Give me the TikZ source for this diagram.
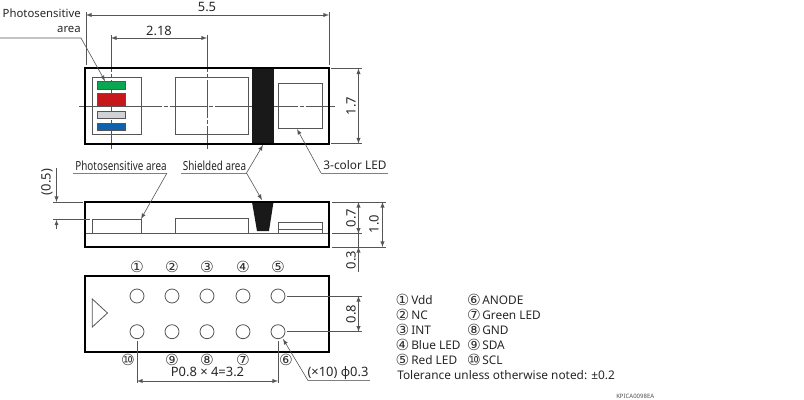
\documentclass[tikz,border=0pt]{standalone}
\usepackage{fontspec}
\setmainfont{Noto Sans}
\newfontfamily\narrowfont[FakeStretch=.79]{Noto Sans}
\newfontfamily\circfont{DejaVu Sans}
\usetikzlibrary{arrows}
\definecolor{thinline}{HTML}{555555}
\definecolor{greenbar}{HTML}{0BA650}
\definecolor{redbar}{HTML}{C8161D}
\definecolor{graybar}{HTML}{D0D2D6}
\definecolor{bluebar}{HTML}{0B62B0}
\tikzset{
  outline/.style={line width=1.5pt,black},
  part/.style={line width=.6pt,thinline},
  dimline/.style={line width=.45pt,thinline},
  underline/.style={line width=.7pt,black!50},
  centerline/.style={line width=.45pt,thinline,dash pattern=on 28pt off 1.5pt on 3pt off 1.5pt},
  bar/.style={draw=thinline,line width=.6pt},
  lbl/.style={inner sep=0pt,font=\narrowfont\fontsize{9.4}{11.25}\selectfont,text=black!85},
  legend/.style={inner sep=0pt,font=\fontsize{8.9}{10}\selectfont,text=black!85},
  dimnum/.style={inner sep=0pt,font=\fontsize{9.7}{10}\selectfont,text=black!85},
  pinlbl/.style={inner sep=0pt,font=\circfont\fontsize{11.5}{12}\selectfont,text=black!80},
}
\begin{document}
\begin{tikzpicture}[x=.75pt,y=-.75pt]
\useasboundingbox (0,0) rectangle (804,400);

% top view
\draw[centerline] (79,106)--(335,106);
\draw[centerline] (111,35)--(111,149);
\draw[centerline] (207,35)--(207,149);
\draw[part] (92.3,77) rectangle (141.5,134.5);
\draw[part] (175.5,77) rectangle (248,134.5);
\draw[part] (278,83.5) rectangle (322.5,128);
\filldraw[bar,fill=greenbar] (97,81.5) rectangle (125,89);
\filldraw[bar,fill=redbar] (97,93) rectangle (125,106.5);
\filldraw[bar,fill=graybar] (97,111) rectangle (125,118.5);
\filldraw[bar,fill=bluebar] (97,123) rectangle (125,130.5);
\fill[black!90] (252,68) rectangle (273.5,144);
\draw[outline] (85,68) rectangle (329,144);

% side view
\draw[part] (85,233.7)--(329,233.7);
\draw[part] (92.3,233.7)--(92.3,219.7)--(141,219.7)--(141,233.7);
\draw[part] (175.5,233.7)--(175.5,218)--(248,218)--(248,233.7);
\draw[part] (278,233.7)--(278,222.5)--(322.5,222.5)--(322.5,233.7);
\draw[part] (278,229.5)--(322.5,229.5);
\fill[black!90] (252,202)--(273.5,202)--(269,231)--(257,231)--cycle;
\draw[outline] (85,202) rectangle (329,247);

% bottom view
\draw[outline] (85,276) rectangle (329,351.5);
\draw[part] (92.3,299)--(107.5,313)--(92.3,327)--cycle;
\foreach \x in {137,172,207,243,278} {
  \draw[part] (\x,296) circle (7);
  \draw[part] (\x,331.7) circle (7);
}

% pin numbers
\foreach \x/\t in {137/①,172/②,207/③,243/④,278/⑤}
  \node[pinlbl] (top\x) at (\x,267) {\t};
\foreach \x/\t in {128/⑩,172/⑨,207/⑧,243/⑦,286/⑥}
  \node[pinlbl] (bot\x) at (\x,360) {\t};

% dimensions, top
\draw[dimline] (86,12)--(86,65);
\draw[dimline] (329,12)--(329,65);
\node[dimnum] (len) at (207,7) {5.5};
\draw[dimline,latex-latex] (86,15)--(329,15);
\node[dimnum] (pitch) at (159,31) {2.18};
\draw[dimline,latex-latex] (111,38)--(207,38);
\draw[dimline] (331,68.5)--(362,68.5);
\draw[dimline] (331,143.5)--(362,143.5);
\draw[dimline,latex-latex] (358.5,68.5)--(358.5,143.5);
\node[dimnum,rotate=90] (wid) at (351,106) {1.7};

% dimensions, side
\draw[dimline] (53,202)--(83,202);
\draw[dimline] (53,219.7)--(90,219.7);
\draw[dimline,-latex] (56.5,168)--(56.5,202);
\draw[dimline,-latex] (56.5,229)--(56.5,219.7);
\node[dimnum,rotate=90] (offs) at (47,182) {(0.5)};
\draw[dimline] (332,202)--(386,202);
\draw[dimline] (332,247)--(386,247);
\draw[dimline] (332,233.7)--(362,233.7);
\draw[dimline,latex-latex] (358.5,202)--(358.5,233.7);
\draw[dimline,-latex] (358.5,272)--(358.5,247);
\draw[dimline] (358.5,247)--(358.5,233.7);
\draw[dimline,latex-latex] (382.5,202)--(382.5,247);
\node[dimnum,rotate=90] (hgt) at (351,218) {0.7};
\node[dimnum,rotate=90] (gap) at (351,260) {0.3};
\node[dimnum,rotate=90] (tot) at (374,224) {1.0};

% dimensions, bottom
\draw[dimline] (287,296)--(362,296);
\draw[dimline] (287,331.7)--(362,331.7);
\draw[dimline,latex-latex] (358.5,296)--(358.5,331.7);
\node[dimnum,rotate=90] (row) at (351,314) {0.8};
\draw[dimline] (137,341)--(137,383);
\draw[dimline] (278,341)--(278,383);
\draw[dimline,latex-latex] (137,381)--(278,381);
\node[dimnum] (pit) at (207.5,372) {P0.8 × 4=3.2};

% leaders
\node[lbl,align=right,anchor=north east,font=\fontsize{8.5}{11.25}\selectfont] (lphoto) at (81,9) {Photosensitive\\area};
\coordinate (lphotoa) at (0,38);
\coordinate (lphotob) at (81,38);
\coordinate (lphotoc) at (105,81);
\draw[dimline,-latex] (lphotoa)--(lphotob)--(lphotoc);

\node[lbl] (lside) at (121,166) {Photosensitive area};
\draw[underline] (73,173)--(167,173);
\draw[dimline,-latex] (167,173)--(141,219);

\node[lbl] (lshield) at (214.5,166) {Shielded area};
\draw[underline] (181,173)--(246.5,173);
\draw[dimline,-latex] (246.5,173)--(263,145);
\draw[dimline,-latex] (246.5,173)--(262,200);

\node[legend] (lled) at (355,165) {3-color LED};
\draw[underline] (321,173)--(388,173);
\draw[dimline,-latex] (321,173)--(297,129);

\node[dimnum] (lhole) at (338,373) {(×10) ϕ0.3};
\draw[underline] (308,380.5)--(370,380.5);
\draw[dimline,-latex] (308,380.5)--(283,339);

% pin legend
\foreach \y/\a/\p/\b/\q in {300/①/Vdd/⑥/ANODE,315/②/NC/⑦/Green LED,330/③/INT/⑧/GND,345/④/Blue LED/⑨/SDA,360/⑤/Red LED/⑩/SCL} {
  \node[pinlbl] at (402.5,\y) {\a};
  \node[legend,anchor=west] at (411,\y) {\p};
  \node[pinlbl] at (474,\y) {\b};
  \node[legend,anchor=west] at (482,\y) {\q};
}
\node[legend,anchor=west] (tol) at (397,375) {Tolerance unless otherwise noted: ±0.2};
\node[inner sep=0pt,anchor=west,font=\fontsize{4.5}{5}\selectfont,text=black!70] (code) at (616,396.5) {KPICA0098EA};
\end{tikzpicture}
\end{document}
